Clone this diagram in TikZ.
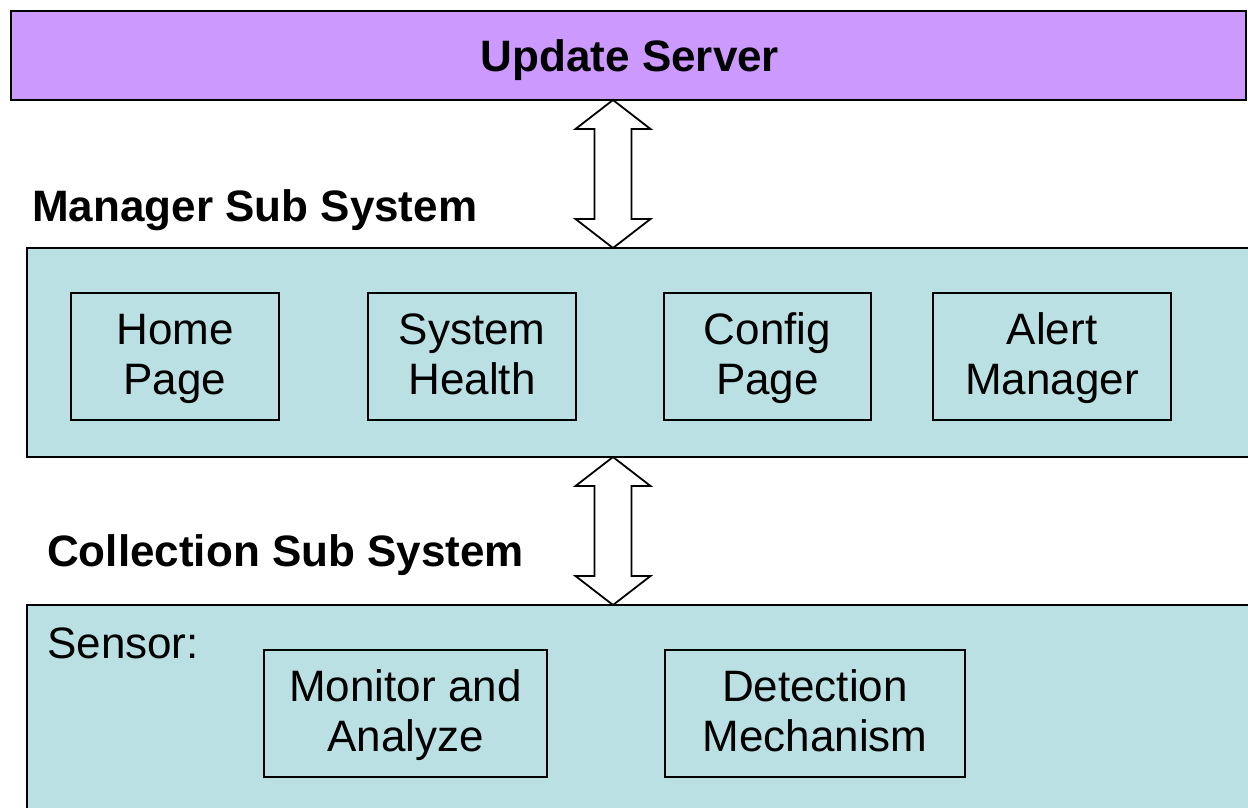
\documentclass[tikz,border=0pt]{standalone}
\usepackage{fontspec}
\setmainfont{Liberation Sans}
\usetikzlibrary{positioning}

\definecolor{serverfill}{HTML}{CC99FF}
\definecolor{panelfill}{HTML}{BBE0E3}

% same height for every text line in the boxes
\newcommand{\txtstrut}{\rule[-12.5pt]{0pt}{50pt}}

\tikzset{
  panel/.style={draw=black, line width=2pt, fill=panelfill, inner sep=0pt},
  part/.style={draw=black, line width=1.3pt, align=center, inner sep=0pt,
    font=\fontsize{44}{50}\selectfont},
  title/.style={inner sep=0pt, font=\bfseries\fontsize{44}{50}\selectfont},
  plain/.style={inner sep=0pt, font=\fontsize{44}{50}\selectfont},
  linkarrow/.style={draw=black, line width=1.8pt, fill=white, line join=miter}
}

\begin{document}
\begin{tikzpicture}[x=1pt, y=-1pt]
\useasboundingbox (0,0) rectangle (1248,808);
\clip (0,0) rectangle (1248,808);

% top block
\node[panel, fill=serverfill, minimum width=1235pt, minimum height=89pt] (server) at (628.5,55.5) {};
\node[title, anchor=base] at (630,71) {Update Server};

% manager part
\node[panel, minimum width=1243pt, minimum height=209pt] (manager) at (648.5,352.5) {};
\node[title, anchor=base west] (mgrtitle) at (32,221) {Manager Sub System};

\node[part, minimum width=208pt, minimum height=127pt] (home) at (175,356.5) {\txtstrut Home\\\txtstrut Page};
\node[part, minimum width=208pt, minimum height=127pt] (health) at (472,356.5) {\txtstrut System\\\txtstrut Health};
\node[part, minimum width=207pt, minimum height=127pt] (config) at (767.5,356.5) {\txtstrut Config\\\txtstrut Page};
\node[part, minimum width=238pt, minimum height=127pt] (alert) at (1052,356.5) {\txtstrut Alert\\\txtstrut Manager};

% collection part
\node[panel, minimum width=1243pt, minimum height=225pt] (collect) at (648.5,717.5) {};
\node[title, anchor=base west] (coltitle) at (47,566) {Collection Sub System};
\node[plain, anchor=base west] (sensor) at (47,658) {Sensor:};

\node[part, minimum width=283pt, minimum height=127pt] (monitor) at (405.5,713.5) {\txtstrut Monitor and\\\txtstrut Analyze};
\node[part, minimum width=300pt, minimum height=127pt] (detect) at (815,713.5) {\txtstrut Detection\\\txtstrut Mechanism};

% links
\coordinate (lnkA) at (613,100);
\coordinate (lnkB) at (613,248);
\coordinate (lnkC) at (613,457);
\coordinate (lnkD) at (613,605);

\draw[linkarrow] (lnkA) -- ++(37.5,29) -- ++(-19,0) -- ++(0,90) -- ++(19,0) -- (lnkB)
  -- ++(-37.5,-29) -- ++(19,0) -- ++(0,-90) -- ++(-19,0) -- cycle;
\draw[linkarrow] (lnkC) -- ++(37.5,29) -- ++(-19,0) -- ++(0,90) -- ++(19,0) -- (lnkD)
  -- ++(-37.5,-29) -- ++(19,0) -- ++(0,-90) -- ++(-19,0) -- cycle;
\end{tikzpicture}
\end{document}
